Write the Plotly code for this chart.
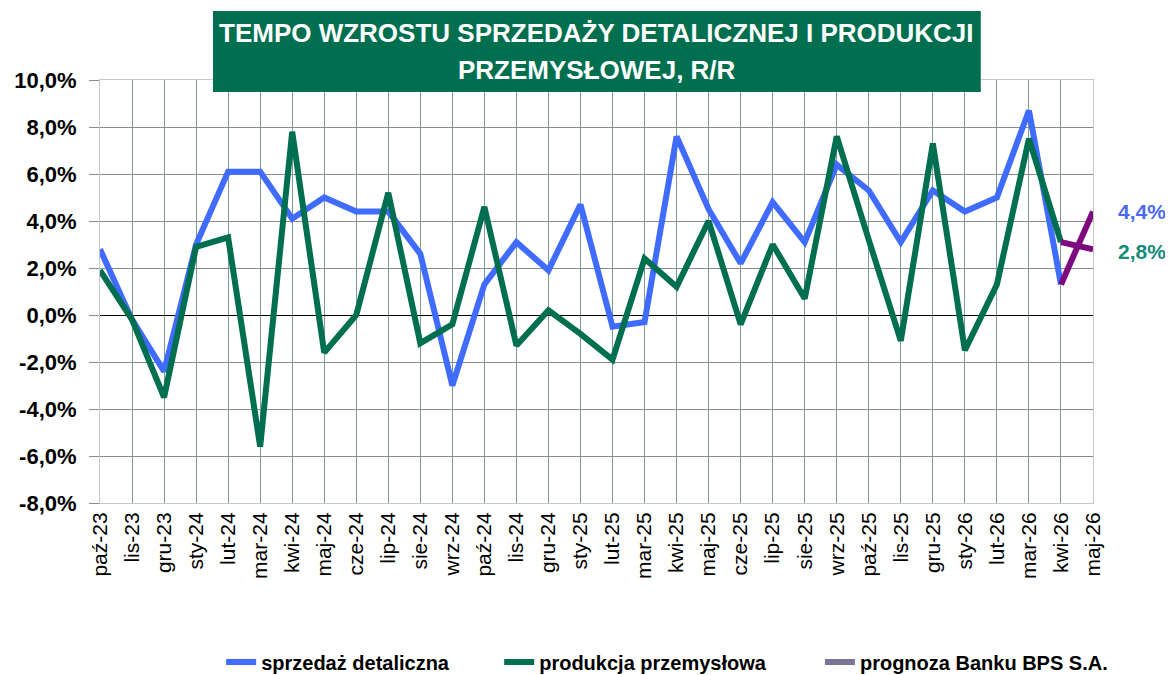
import plotly.graph_objects as go

categories = ["paź-23","lis-23","gru-23","sty-24","lut-24","mar-24","kwi-24","maj-24","cze-24","lip-24",
              "sie-24","wrz-24","paź-24","lis-24","gru-24","sty-25","lut-25","mar-25","kwi-25","maj-25",
              "cze-25","lip-25","sie-25","wrz-25","paź-25","lis-25","gru-25","sty-26","lut-26","mar-26",
              "kwi-26","maj-26"]

retail = [2.8, -0.2, -2.4, 3.0, 6.1, 6.1, 4.1, 5.0, 4.4, 4.4,
          2.6, -3.0, 1.3, 3.1, 1.9, 4.7, -0.5, -0.3, 7.6, 4.5,
          2.2, 4.8, 3.1, 6.4, 5.3, 3.1, 5.3, 4.4, 5.0, 8.7,
          1.3, None]
production = [1.9, -0.2, -3.5, 2.9, 3.3, -5.6, 7.8, -1.6, 0.0, 5.2,
              -1.2, -0.4, 4.6, -1.3, 0.2, -0.8, -1.9, 2.4, 1.2, 4.0,
              -0.4, 3.0, 0.7, 7.6, 3.2, -1.1, 7.3, -1.5, 1.3, 7.5,
              3.1, None]
retail_fc = [None]*30 + [1.3, 4.4]
production_fc = [None]*30 + [3.1, 2.8]

ytick_vals = [-8, -6, -4, -2, 0, 2, 4, 6, 8, 10]
ytick_text = ["-8,0%", "-6,0%", "-4,0%", "-2,0%", "0,0%", "2,0%", "4,0%", "6,0%", "8,0%", "10,0%"]

BLUE = "#3f6bff"
GREEN = "#006f4f"
PURPLE = "#7e0a80"
LEG_PURPLE = "#7d7596"

fig = go.Figure()
fig.add_trace(go.Scatter(x=categories, y=retail, mode="lines", name="sprzedaż detaliczna",
                         line=dict(color=BLUE, width=6), legend="legend"))
fig.add_trace(go.Scatter(x=categories, y=production, mode="lines", name="produkcja przemysłowa",
                         line=dict(color=GREEN, width=6), legend="legend2"))
fig.add_trace(go.Scatter(x=categories, y=retail_fc, mode="lines", showlegend=False,
                         line=dict(color=PURPLE, width=6)))
fig.add_trace(go.Scatter(x=categories, y=production_fc, mode="lines", showlegend=False,
                         line=dict(color=PURPLE, width=6)))
# legend entry for the forecast
fig.add_trace(go.Scatter(x=[None], y=[None], mode="lines", name="prognoza Banku BPS S.A.",
                         line=dict(color=LEG_PURPLE, width=6), legend="legend3"))

leg_font = dict(family="Liberation Sans", size=20, color="black", weight="bold")
leg_common = dict(orientation="h", xanchor="left", y=-0.376, yanchor="middle",
                  font=leg_font, itemwidth=30, bgcolor="rgba(0,0,0,0)")

fig.update_layout(
    width=1165, height=667,
    margin=dict(l=92, r=80, t=72, b=172, autoexpand=False),
    plot_bgcolor="white", paper_bgcolor="white",
    font=dict(family="Liberation Sans", color="black"),
    showlegend=True,
    legend=dict(x=0.122, **leg_common),
    legend2=dict(x=0.402, **leg_common),
    legend3=dict(x=0.725, **leg_common),
    xaxis=dict(type="category", range=[0, 31], showgrid=True, gridcolor="#7f9993", gridwidth=1,
               tickangle=-90, tickfont=dict(family="Liberation Sans", size=21, color="black"),
               showline=True, linecolor="#c8c8c8", linewidth=1, mirror=True, ticks="", zeroline=False,
               automargin=False),
    yaxis=dict(range=[-8, 10], tickvals=ytick_vals, ticktext=ytick_text, showgrid=True,
               gridcolor="#8a8a8a", gridwidth=1, ticks="outside", ticklen=10, tickcolor="#8a8a8a",
               tickfont=dict(family="Liberation Sans", size=22, color="black", weight="bold"),
               ticklabelstandoff=8,
               showline=True, linecolor="#c8c8c8", linewidth=1, mirror=True,
               zeroline=True, zerolinecolor="black", zerolinewidth=1, automargin=False),
)

# title box
fig.add_shape(type="rect", xref="paper", yref="paper", x0=0.1138, x1=0.887, y0=0.9716, y1=1.163,
              fillcolor="#006f4f", line=dict(width=0), layer="above")
fig.add_annotation(xref="paper", yref="paper", x=0.5, y=1.163 - 0.052, yanchor="middle",
                   text="<b>TEMPO WZROSTU SPRZEDAŻY DETALICZNEJ I PRODUKCJI</b>", showarrow=False,
                   font=dict(family="Liberation Sans", size=26, color="white"))
fig.add_annotation(xref="paper", yref="paper", x=0.5, y=1.163 - 0.14, yanchor="middle",
                   text="<b>PRZEMYSŁOWEJ, R/R</b>", showarrow=False,
                   font=dict(family="Liberation Sans", size=26, color="white"))

# end labels
fig.add_annotation(x=categories[-1], y=4.4, text="<b>4,4%</b>", showarrow=False, xshift=49,
                   font=dict(family="Liberation Sans", size=21, color="#4a6cf0"))
fig.add_annotation(x=categories[-1], y=2.7, text="<b>2,8%</b>", showarrow=False, xshift=49,
                   font=dict(family="Liberation Sans", size=21, color="#138a7a"))

fig.write_html("out.html")
